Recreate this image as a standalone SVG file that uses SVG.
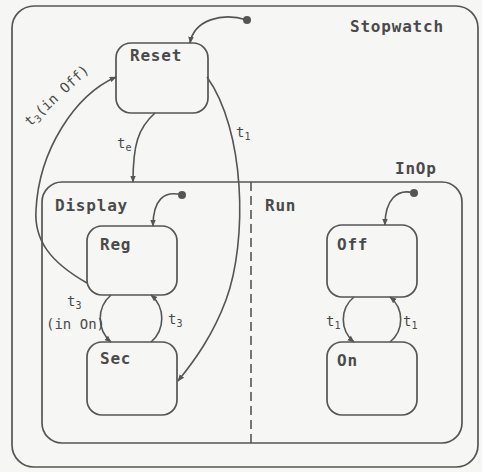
<svg xmlns="http://www.w3.org/2000/svg" width="482" height="472" viewBox="0 0 482 472">
<style>
.box{fill:none;stroke:#555;stroke-width:1.7}
.st{fill:#f6f6f4;stroke:#555;stroke-width:1.7}
.c{fill:none;stroke:#555;stroke-width:1.6}
.lbl{font-family:"DejaVu Sans Mono","Liberation Mono",monospace;font-weight:bold;font-size:16px;fill:#4a4a4a;letter-spacing:0.8px}
.sm{font-family:"DejaVu Sans Mono","Liberation Mono",monospace;font-size:14px;fill:#4a4a4a}
.sub{font-size:10px}
.dot{fill:#555}
</style>
<defs>
<marker id="ah" viewBox="0 0 10 10" refX="9" refY="5" markerWidth="7" markerHeight="7" orient="auto" markerUnits="userSpaceOnUse">
<path d="M0,1 L10,5 L0,9 Z" fill="#555"/>
</marker>
</defs>
<rect width="482" height="472" fill="#f6f6f4"/>
<g id="Stopwatch">
<rect class="box" x="12" y="6" width="466" height="461" rx="22"/>
<text class="lbl" x="350" y="32">Stopwatch</text>
</g>
<g id="InOp">
<rect class="box" x="42" y="182" width="420" height="261" rx="20"/>
<text class="lbl" x="395" y="174">InOp</text>
<line x1="251" y1="182" x2="251" y2="443" stroke="#555" stroke-width="1.6" stroke-dasharray="9,5"/>
</g>
<g id="Display"><text class="lbl" x="55" y="211">Display</text></g>
<g id="Run"><text class="lbl" x="265" y="211">Run</text></g>
<g id="Reset">
<rect class="st" x="116" y="43" width="92" height="70" rx="15"/>
<text class="lbl" x="130" y="61">Reset</text>
</g>
<g id="Reg">
<rect class="st" x="87" y="226" width="90" height="69" rx="15"/>
<text class="lbl" x="100" y="250">Reg</text>
</g>
<g id="Sec">
<rect class="st" x="87" y="342" width="90" height="73" rx="15"/>
<text class="lbl" x="100" y="364">Sec</text>
</g>
<g id="Off">
<rect class="st" x="327" y="225" width="90" height="72" rx="15"/>
<text class="lbl" x="337" y="250">Off</text>
</g>
<g id="On">
<rect class="st" x="327" y="342" width="90" height="73" rx="15"/>
<text class="lbl" x="337" y="366">On</text>
</g>
<g id="connectors">
<circle class="dot" cx="247" cy="20" r="4"/>
<path class="c" d="M247,20 C222,12 194,20 190,43" marker-end="url(#ah)"/>
<circle class="dot" cx="182" cy="195" r="4"/>
<path class="c" d="M182,195 C164,190 153,200 153,226" marker-end="url(#ah)"/>
<circle class="dot" cx="414" cy="193" r="4"/>
<path class="c" d="M414,193 C397,188 385,200 385,225" marker-end="url(#ah)"/>
<path class="c" d="M155,113 C138,128 133,145 133,182" marker-end="url(#ah)"/>
<text class="sm" x="117" y="148">t<tspan class="sub" dy="3">e</tspan></text>
<path class="c" d="M207,77 C245,130 248,240 226,300 C213,335 195,360 178,381" marker-end="url(#ah)"/>
<text class="sm" x="236" y="137">t<tspan class="sub" dy="3">1</tspan></text>
<path class="c" d="M87,283 C50,262 34,240 36,210 C39,150 75,95 116,77" marker-end="url(#ah)"/>
<text class="sm" font-size="15" transform="translate(60,99) rotate(-43)" text-anchor="middle">t<tspan class="sub" dy="3">3</tspan><tspan dy="-3">(in Off)</tspan></text>
<path class="c" d="M111,295 A31,31 0 0,0 111,342" marker-end="url(#ah)"/>
<path class="c" d="M151,342 A31,31 0 0,0 151,295" marker-end="url(#ah)"/>
<text class="sm" x="67" y="306">t<tspan class="sub" dy="3">3</tspan></text>
<text class="sm" x="46" y="329" font-size="12">(in On)</text>
<text class="sm" x="168" y="324">t<tspan class="sub" dy="3">3</tspan></text>
<path class="c" d="M354,297 A29,29 0 0,0 354,342" marker-end="url(#ah)"/>
<path class="c" d="M390,342 A29,29 0 0,0 390,297" marker-end="url(#ah)"/>
<text class="sm" x="326" y="326">t<tspan class="sub" dy="3">1</tspan></text>
<text class="sm" x="403" y="326">t<tspan class="sub" dy="3">1</tspan></text>
</g>
</svg>
